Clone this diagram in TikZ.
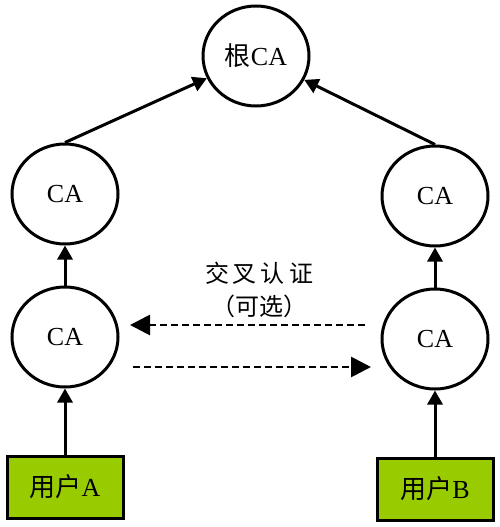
\documentclass[tikz,border=0pt]{standalone}
\usepackage{fontspec}
\setmainfont{Liberation Serif}
\newfontfamily\cjk{Noto Sans CJK SC}
\usetikzlibrary{arrows.meta,shapes.geometric}
\begin{document}
\begin{tikzpicture}[x=1pt,y=-1pt,
  ca/.style={draw,line width=3pt,ellipse,minimum width=106pt,minimum height=100pt,inner sep=0pt,font=\fontsize{26}{30}\selectfont},
  user/.style={draw,line width=3pt,fill=userg,minimum width=116pt,minimum height=62pt,inner sep=0pt,font=\fontsize{26}{30}\selectfont},
  arr/.style={line width=3pt,-{Triangle[length=14pt,width=15pt]}},
  darr/.style={line width=2.8pt,dash pattern=on 7pt off 4pt,-{Triangle[length=20pt,width=20pt]}}]
\definecolor{userg}{HTML}{99CC00}
\useasboundingbox (0,0) rectangle (500,527);
\node[ca] (root) at (256,56) {{\cjk 根}CA};
\node[ca] (cal1) at (65,194) {CA};
\node[ca] (car1) at (435,196) {CA};
\node[ca] (cal2) at (65,337) {CA};
\node[ca] (car2) at (435,339) {CA};
\node[user] (ua) at (65,487) {{\cjk 用户}A};
\node[user] (ub) at (435,489) {{\cjk 用户}B};
\node[font=\fontsize{24}{28}\selectfont\cjk] (lab1) at (259,273) {交\,叉\,认\,证};
\node[font=\fontsize{24}{28}\selectfont\cjk] (lab2) at (259,306) {（可选）};
\coordinate (d1s) at (365,325);
\coordinate (d1e) at (130,325);
\coordinate (d2s) at (133,367);
\coordinate (d2e) at (371,367);
\draw[arr] (cal1.north) -- (root);
\draw[arr] (car1.north) -- (root);
\draw[arr] (cal2.north) -- (cal1.south);
\draw[arr] (car2.north) -- (car1.south);
\draw[arr] (ua.north) -- (cal2.south);
\draw[arr] (ub.north) -- (car2.south);
\draw[darr] (d1s) -- (d1e);
\draw[darr] (d2s) -- (d2e);
\end{tikzpicture}
\end{document}
